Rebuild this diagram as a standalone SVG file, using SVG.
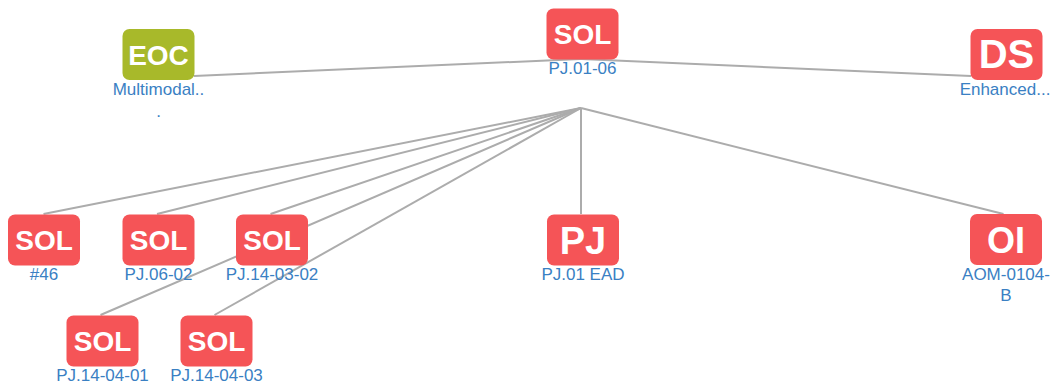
<svg xmlns="http://www.w3.org/2000/svg" width="1055" height="387" viewBox="0 0 1055 387">
<style>
.bg{fill:#ffffff}
.link{stroke:#acacac;stroke-width:2;fill:none}
.box{fill:#f55457}
.box.eoc{fill:#a8b92a}
.t{fill:#ffffff;font-family:"Liberation Sans",Arial,sans-serif;font-weight:bold;text-anchor:middle}
.s{font-size:28px}
.b{font-size:38px}
.lbl{fill:#3a80c3;font-family:"Liberation Sans",Arial,sans-serif;font-size:17px;text-anchor:middle}
</style>
<rect class="bg" x="0" y="0" width="1055" height="387"/>
<g id="connectors">
<path class="link" d="M194 76 L581 59"/>
<path class="link" d="M581 59 L971 76"/>
<path class="link" d="M581 108 L43.5 214"/>
<path class="link" d="M581 108 L157 214"/>
<path class="link" d="M581 108 L270.5 214"/>
<path class="link" d="M581 108 L581 214"/>
<path class="link" d="M581 108 L1003.5 214"/>
<path class="link" d="M581 108 L100.5 315"/>
<path class="link" d="M581 108 L214.5 315"/>
</g>
<g id="node-eoc">
<rect class="box eoc" x="122.5" y="29" width="72" height="51" rx="7"/>
<text class="t s" x="158.5" y="65">EOC</text>
<text class="lbl" x="158.5" y="95">Multimodal..</text>
<text class="lbl" x="158.5" y="117">.</text>
</g>
<g id="node-sol-root">
<rect class="box" x="546.5" y="8.5" width="72" height="51" rx="7"/>
<text class="t s" x="582.5" y="43.5">SOL</text>
<text class="lbl" x="582.5" y="74">PJ.01-06</text>
</g>
<g id="node-ds">
<rect class="box" x="970.5" y="29" width="72" height="51" rx="7"/>
<text class="t b" x="1006.5" y="68" style="font-size:40px">DS</text>
<text class="lbl" x="1005" y="95">Enhanced...</text>
</g>
<g id="node-sol-46">
<rect class="box" x="8" y="214.5" width="72" height="51" rx="7"/>
<text class="t s" x="44" y="250">SOL</text>
<text class="lbl" x="44" y="280">#46</text>
</g>
<g id="node-sol-pj0602">
<rect class="box" x="122.5" y="214.5" width="72" height="51" rx="7"/>
<text class="t s" x="158.5" y="250">SOL</text>
<text class="lbl" x="158.5" y="280">PJ.06-02</text>
</g>
<g id="node-sol-pj140302">
<rect class="box" x="236" y="214.5" width="72" height="51" rx="7"/>
<text class="t s" x="272" y="250">SOL</text>
<text class="lbl" x="272" y="280">PJ.14-03-02</text>
</g>
<g id="node-pj">
<rect class="box" x="547" y="214.5" width="72" height="51" rx="7"/>
<text class="t b" x="583" y="253.5">PJ</text>
<text class="lbl" x="583" y="280">PJ.01 EAD</text>
</g>
<g id="node-oi">
<rect class="box" x="970" y="214" width="72" height="51" rx="7"/>
<text class="t b" x="1006" y="253" style="font-size:36px">OI</text>
<text class="lbl" x="1006" y="280">AOM-0104-</text>
<text class="lbl" x="1006" y="301">B</text>
</g>
<g id="node-sol-pj140401">
<rect class="box" x="66.5" y="315.5" width="72" height="51" rx="7"/>
<text class="t s" x="102.5" y="351">SOL</text>
<text class="lbl" x="102.5" y="381">PJ.14-04-01</text>
</g>
<g id="node-sol-pj140403">
<rect class="box" x="180.5" y="315.5" width="72" height="51" rx="7"/>
<text class="t s" x="216.5" y="351">SOL</text>
<text class="lbl" x="216.5" y="381">PJ.14-04-03</text>
</g>
</svg>
